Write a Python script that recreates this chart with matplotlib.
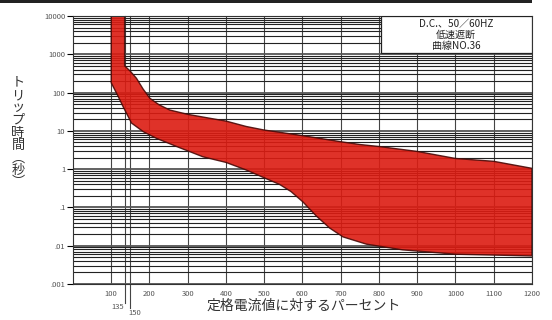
import numpy as np
import matplotlib.pyplot as plt
from matplotlib.patches import Rectangle
from matplotlib.ticker import LogLocator, NullFormatter

plt.rcParams['font.family'] = ['Noto Sans CJK JP', 'DejaVu Sans']

# band boundaries (percent of rated current, trip time in s)
lower_x = [100, 100, 118, 131, 153, 184, 218, 271, 340, 400, 453, 506, 540, 570, 601,
           636, 671, 706, 767, 862, 1000, 1100, 1200]
lower_y = [20000, 180, 80, 43, 16, 9.5, 6.4, 3.9, 2.1, 1.5, 0.95, 0.56, 0.4, 0.26, 0.14,
           0.06, 0.029, 0.017, 0.011, 0.0078, 0.006, 0.0057, 0.0054]
upper_x = [135, 135, 150, 166, 183, 201, 225, 253, 300, 350, 400, 453, 500, 600, 700,
           750, 800, 900, 1000, 1100, 1200]
upper_y = [20000, 500, 360, 236, 125, 71, 48, 35, 27, 22, 18, 13, 10.5, 7.5, 5.2,
           4.4, 3.9, 2.9, 1.9, 1.6, 1.05]

x_ticks = [100, 200, 300, 400, 500, 600, 700, 800, 900, 1000, 1100, 1200]
y_ticks = [0.001, 0.01, 0.1, 1, 10, 100, 1000, 10000]
y_tick_labels = ['.001', '.01', '.1', '1', '10', '100', '1000', '10000']
marks = [135, 150]
box_lines = ['D.C.、50／60HZ', '低速遮断', '曲線NO.36']
ylabel_chars = ['ト', 'リ', 'ッ', 'プ', '時', '間', '︵', '秒', '︶']

fig = plt.figure(figsize=(5.52, 3.2), dpi=100)
ax = fig.add_axes([0.1322, 0.1125, 0.8315, 0.8375])
ax.set_yscale('log')
ax.set_xlim(0, 1200)
ax.set_ylim(0.001, 10000)

# grid
ax.yaxis.set_minor_locator(LogLocator(base=10, subs=np.arange(2, 10)))
ax.yaxis.set_minor_formatter(NullFormatter())
ax.grid(which='minor', axis='y', color='#222222', lw=0.8, zorder=1)
ax.grid(which='major', axis='y', color='#555555', lw=1.3, zorder=1)
ax.grid(which='major', axis='x', color='#444444', lw=0.8, zorder=1)

# trip band
poly_x = list(upper_x) + list(lower_x[::-1])
poly_y = list(upper_y) + list(lower_y[::-1])
ax.fill(poly_x, poly_y, facecolor='#dc1c12', edgecolor='#4a0a08', lw=1.0,
        alpha=0.9, zorder=2)

# 135 / 150 marks
xt = ax.get_xaxis_transform()
for m, ymin in zip(marks, [-0.07, -0.09]):
    ax.axvline(m, ymin=ymin, ymax=1, color='#444444', lw=0.8, clip_on=False, zorder=1)
ax.text(marks[0] - 1, -0.085, str(marks[0]), transform=xt, ha='right', va='center',
        fontsize=5.5, color='#555555')
ax.text(marks[1] - 6, -0.108, str(marks[1]), transform=xt, ha='left', va='center',
        fontsize=5.5, color='#555555')

ax.set_xticks(x_ticks)
ax.set_xticklabels([str(v) for v in x_ticks])
ax.set_yticks(y_ticks)
ax.set_yticklabels(y_tick_labels)
ax.tick_params(axis='x', length=0, pad=4, labelsize=5.5, labelcolor='#555555')
ax.tick_params(axis='y', which='major', length=4.5, width=0.8, pad=1,
               labelsize=5.5, labelcolor='#555555')
ax.tick_params(axis='y', which='minor', length=0)
for s in ax.spines.values():
    s.set_color('#333333')
    s.set_linewidth(0.8)

# title box
ax.add_patch(Rectangle((0.671, 0.862), 0.329, 0.138, transform=ax.transAxes,
                       facecolor='white', edgecolor='#222222', lw=0.9, zorder=5))
for txt, yy in zip(box_lines, [0.970, 0.929, 0.888]):
    ax.text(0.835, yy, txt, transform=ax.transAxes, ha='center', va='center',
            fontsize=7.2, color='#222222', zorder=6)

# axis labels
fig.text(304 / 552, 1 - 306 / 320, '定格電流値に対するパーセント', ha='center', va='center',
         fontsize=10, color='#333333')
fig.text(18 / 552, 1 - 133 / 320, '\n'.join(ylabel_chars), ha='center', va='center',
         fontsize=9.5, color='#333333', linespacing=0.95)

# dark strip along the top of the scan
fig.add_artist(Rectangle((0, 1 - 3 / 320), 532 / 552, 3 / 320, transform=fig.transFigure,
                         facecolor='#222222', edgecolor='none'))

fig.savefig('out.png', dpi=100)
